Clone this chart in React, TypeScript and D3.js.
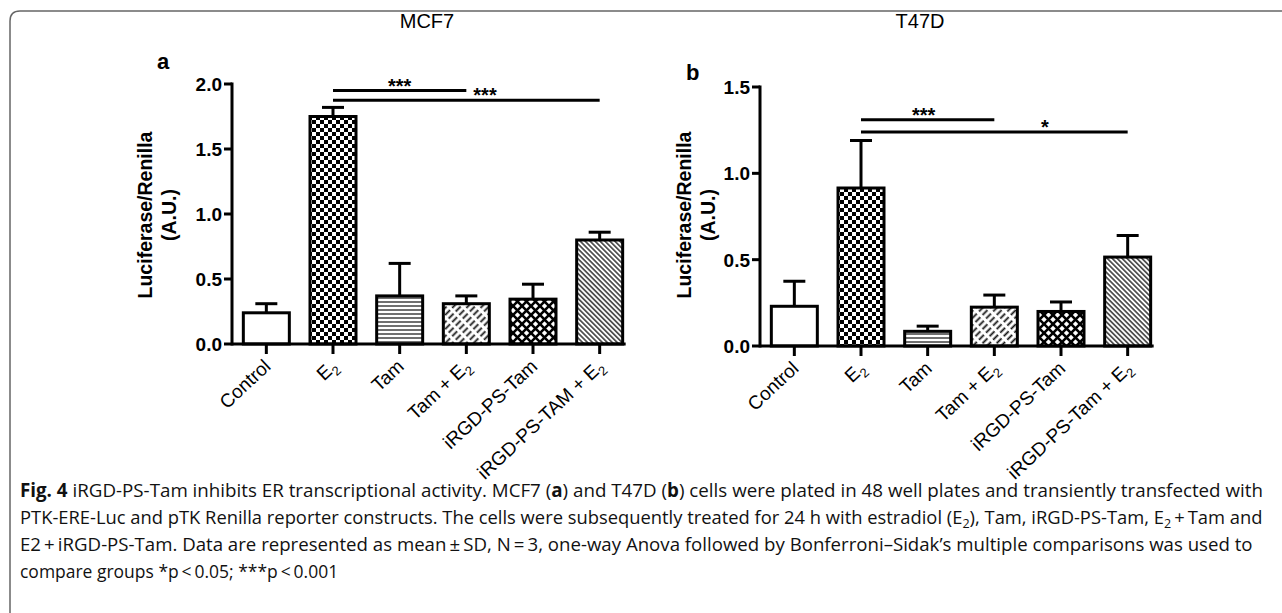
import React, { useLayoutEffect, useRef, useState } from 'react';
import * as d3 from 'd3';

// groups and values
const groupsA = ['Control', 'E2', 'Tam', 'Tam + E2', 'iRGD-PS-Tam', 'iRGD-PS-TAM + E2'];
const groupsB = ['Control', 'E2', 'Tam', 'Tam + E2', 'iRGD-PS-Tam', 'iRGD-PS-Tam + E2'];
const meanA = [0.24, 1.75, 0.37, 0.31, 0.345, 0.8];
const sdA = [0.07, 0.07, 0.25, 0.06, 0.115, 0.06];
const meanB = [0.23, 0.915, 0.085, 0.225, 0.2, 0.515];
const sdB = [0.145, 0.275, 0.03, 0.07, 0.055, 0.125];
const ticksA = [0, 0.5, 1.0, 1.5, 2.0];
const ticksB = [0, 0.5, 1.0, 1.5];
const patterns = ['none', 'checker', 'hlines', 'dashes', 'lattice', 'diag'];
// significance bars: [from group, to group, y value, label, label position along the bar]
const sigA: [number, number, number, string, number][] = [
  [1, 3, 1.95, '***', 0.5],
  [1, 5, 1.875, '***', 0.57],
];
const sigB: [number, number, number, string, number][] = [
  [1, 3, 1.31, '***', 0.47],
  [1, 5, 1.24, '*', 0.69],
];

const FONT = 'Liberation Sans, Arial, sans-serif';

const Label = ({ text }: { text: string }) => {
  // all the labels end with E2 when they have one
  if (!text.endsWith('E2')) return <>{text}</>;
  return (
    <>
      {text.slice(0, -1)}
      <tspan fontSize="13" dy="5">2</tspan>
    </>
  );
};

type PanelProps = {
  title: string;
  letter: string;
  letterX: number;
  letterY: number;
  titleX: number;
  axisX: number;
  labelOff: number;
  groups: string[];
  mean: number[];
  sd: number[];
  ticks: number[];
  yMax: number;
  yTop: number;
  yBottom: number;
  sig: [number, number, number, string, number][];
};

const Panel = (p: PanelProps) => {
  const x = d3.scaleBand<string>()
    .domain(p.groups)
    .range([p.axisX + 1, p.axisX + 401])
    .paddingInner(0.31)
    .paddingOuter(0.155);
  const y = d3.scaleLinear().domain([0, p.yMax]).range([p.yBottom, p.yTop]);
  const bw = x.bandwidth();
  const cx = (i: number) => (x(p.groups[i]) as number) + bw / 2;
  const fmt = d3.format('.1f');
  const xEnd = cx(p.groups.length - 1) + bw / 2 + 3;

  return (
    <g fontFamily={FONT}>
      <text x={p.titleX} y={28} fontSize={20} textAnchor="middle">{p.title}</text>
      <text x={p.letterX} y={p.letterY} fontSize={22} fontWeight="bold">{p.letter}</text>
      <text
        transform={`translate(${p.axisX - p.labelOff},${215}) rotate(-90)`}
        fontSize={19.5}
        fontWeight="bold"
        textAnchor="middle"
      >
        Luciferase/Renilla
      </text>
      <text
        transform={`translate(${p.axisX - p.labelOff + 24},${215}) rotate(-90)`}
        fontSize={19.5}
        fontWeight="bold"
        textAnchor="middle"
      >
        (A.U.)
      </text>

      {/* bars */}
      {p.mean.map((m, i) => (
        <g key={i}>
          <line x1={cx(i)} x2={cx(i)} y1={y(m)} y2={y(m + p.sd[i])} stroke="#000" strokeWidth={3} />
          <line x1={cx(i) - 11} x2={cx(i) + 11} y1={y(m + p.sd[i])} y2={y(m + p.sd[i])} stroke="#000" strokeWidth={3} />
          <rect
            x={x(p.groups[i])}
            y={y(m)}
            width={bw}
            height={y(0) - y(m)}
            fill={patterns[i] === 'none' ? '#fff' : `url(#${patterns[i]})`}
            stroke="#000"
            strokeWidth={3}
          />
        </g>
      ))}

      {/* y axis */}
      <line x1={p.axisX} x2={p.axisX} y1={y(0) + 1.5} y2={y(p.yMax) - 1.5} stroke="#000" strokeWidth={3} />
      {p.ticks.map(t => (
        <g key={t}>
          <line x1={p.axisX - 8} x2={p.axisX} y1={y(t)} y2={y(t)} stroke="#000" strokeWidth={3} />
          <text x={p.axisX - 10} y={y(t)} dy="0.36em" fontSize={19} fontWeight="bold" textAnchor="end">
            {fmt(t)}
          </text>
        </g>
      ))}

      {/* x axis */}
      <line x1={p.axisX} x2={xEnd} y1={y(0)} y2={y(0)} stroke="#000" strokeWidth={3} />
      {p.groups.map((g, i) => (
        <g key={g}>
          <line x1={cx(i)} x2={cx(i)} y1={y(0)} y2={y(0) + 10} stroke="#000" strokeWidth={3} />
          <text
            transform={`translate(${cx(i) + 1},${y(0) + 19}) rotate(-43)`}
            fontSize={19}
            textAnchor="end"
            dy="0.35em"
          >
            <Label text={g} />
          </text>
        </g>
      ))}

      {/* significance */}
      {p.sig.map(([a, b, v, lab, f], i) => (
        <g key={i}>
          <line x1={cx(a)} x2={cx(b)} y1={y(v)} y2={y(v)} stroke="#000" strokeWidth={3} />
          <text
            x={cx(a) + (cx(b) - cx(a)) * f}
            y={y(v) + 2}
            fontSize={20}
            fontWeight="bold"
            textAnchor="middle"
          >
            {lab}
          </text>
        </g>
      ))}
    </g>
  );
};

const Patterns = () => (
  <defs>
    <pattern id="checker" width={8} height={8} patternUnits="userSpaceOnUse">
      <rect width={8} height={8} fill="#fff" />
      <rect width={4} height={4} fill="#000" />
      <rect x={4} y={4} width={4} height={4} fill="#000" />
    </pattern>
    <pattern id="hlines" width={4} height={4} patternUnits="userSpaceOnUse">
      <rect width={4} height={4} fill="#fff" />
      <line x1={0} x2={4} y1={2} y2={2} stroke="#222" strokeWidth={1.3} />
    </pattern>
    <pattern id="dashes" width={5} height={10} patternUnits="userSpaceOnUse" patternTransform="rotate(45)">
      <rect width={5} height={10} fill="#fff" />
      <line x1={2.5} x2={2.5} y1={1} y2={8} stroke="#111" strokeWidth={1.8} />
    </pattern>
    <pattern id="lattice" width={9} height={9} patternUnits="userSpaceOnUse">
      <rect width={9} height={9} fill="#fff" />
      <path d="M0,0L9,9M9,0L0,9" stroke="#000" strokeWidth={2.6} />
    </pattern>
    <pattern id="diag" width={3.5} height={4} patternUnits="userSpaceOnUse" patternTransform="rotate(-45)">
      <rect width={3.5} height={4} fill="#fff" />
      <line x1={1.75} x2={1.75} y1={0} y2={4} stroke="#333" strokeWidth={1.5} />
    </pattern>
  </defs>
);

// caption line squeezed horizontally to the width it has in the figure
const FitLine = ({ x, y, width, children }: { x: number; y: number; width: number; children: React.ReactNode }) => {
  const ref = useRef<SVGTextElement>(null);
  const [k, setK] = useState(0.8);
  useLayoutEffect(() => {
    const w = ref.current ? ref.current.getComputedTextLength() : 0;
    if (w > 0) setK(width / w);
  }, [width]);
  return (
    <text ref={ref} transform={`translate(${x},${y}) scale(${k},1)`}>
      {children}
    </text>
  );
};

const Caption = () => (
  <g fontFamily="Open Sans, sans-serif" fontSize={19} fill="#111">
    <FitLine x={20} y={497} width={1242}>
      <tspan fontWeight="bold">Fig. 4</tspan>
      <tspan>{'  iRGD-PS-Tam inhibits ER transcriptional activity. MCF7 ('}</tspan>
      <tspan fontWeight="bold">a</tspan>
      <tspan>{') and T47D ('}</tspan>
      <tspan fontWeight="bold">b</tspan>
      <tspan>{') cells were plated in 48 well plates and transiently transfected with'}</tspan>
    </FitLine>
    <FitLine x={20} y={524} width={1242}>
      <tspan>{'PTK-ERE-Luc and pTK Renilla reporter constructs. The cells were subsequently treated for 24 h with estradiol (E'}</tspan>
      <tspan dy={4} fontSize={13}>2</tspan>
      <tspan dy={-4}>{'), Tam, iRGD-PS-Tam, E'}</tspan>
      <tspan dy={4} fontSize={13}>2</tspan>
      <tspan dy={-4}>{'\u2009+\u2009Tam and'}</tspan>
    </FitLine>
    <FitLine x={20} y={551} width={1232}>
      {'E2\u2009+\u2009iRGD-PS-Tam. Data are represented as mean\u2009±\u2009SD, N\u2009=\u20093, one-way Anova followed by Bonferroni\u2013Sidak\u2019s multiple comparisons was used to'}
    </FitLine>
    <FitLine x={20} y={578} width={318}>
      {'compare groups *p\u2009<\u20090.05; ***p\u2009<\u20090.001'}
    </FitLine>
  </g>
);

export default function App() {
  return (
    <svg
      width={1282}
      height={613}
      viewBox="0 0 1282 613"
      style={{ position: 'absolute', left: 0, top: 0, background: '#fff' }}
    >
      <Patterns />
      <rect width={1282} height={613} fill="#fff" />
      <path d="M10,625 L10,21 Q10,11 20,11 L1290,11" fill="none" stroke="#666" strokeWidth={1.5} />
      <Panel
        title="MCF7"
        letter="a"
        letterX={157}
        letterY={69}
        titleX={427}
        axisX={232}
        labelOff={80}
        groups={groupsA}
        mean={meanA}
        sd={sdA}
        ticks={ticksA}
        yMax={2}
        yTop={84}
        yBottom={344}
        sig={sigA}
      />
      <Panel
        title="T47D"
        letter="b"
        letterX={686}
        letterY={80}
        titleX={920}
        axisX={760}
        labelOff={69}
        groups={groupsB}
        mean={meanB}
        sd={sdB}
        ticks={ticksB}
        yMax={1.5}
        yTop={87}
        yBottom={346}
        sig={sigB}
      />
      <Caption />
    </svg>
  );
}
